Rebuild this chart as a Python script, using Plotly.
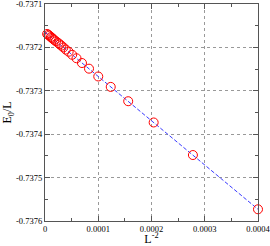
import plotly.graph_objects as go

L_sizes = [50, 60, 70, 80, 90, 100, 110, 120, 130, 140, 150, 160, 170, 180, 190,
           200, 220, 240, 260, 280, 300, 350, 400, 500]
inv_L2 = [1.0 / (L * L) for L in L_sizes]
E0_per_L = [-0.737573, -0.737448, -0.737373, -0.737324, -0.737291, -0.737267,
            -0.737249, -0.737236, -0.737225, -0.737217, -0.737210, -0.737205,
            -0.737200, -0.737196, -0.737193, -0.737190, -0.737186, -0.737183,
            -0.737180, -0.737178, -0.737176, -0.737173, -0.737171, -0.737169]

fit_x = [0.0, 0.0004]
fit_y = [-0.737165, -0.737573]

x_ticks = [0, 0.0001, 0.0002, 0.0003, 0.0004]
x_labels = ["0", "0.0001", "0.0002", "0.0003", "0.0004"]
y_ticks = [-0.7371, -0.7372, -0.7373, -0.7374, -0.7375, -0.7376]
y_labels = ["-0.7371", "-0.7372", "-0.7373", "-0.7374", "-0.7375", "-0.7376"]

font = "Liberation Serif, Times New Roman, serif"

fig = go.Figure()
fig.add_trace(go.Scatter(x=fit_x, y=fit_y, mode="lines",
                         line=dict(color="#3a3aff", width=1, dash="4px,2px"),
                         showlegend=False, hoverinfo="skip"))
fig.add_trace(go.Scatter(x=inv_L2, y=E0_per_L, mode="markers", cliponaxis=False,
                         marker=dict(symbol="circle-open", size=9, color="red",
                                     line=dict(width=1, color="red")),
                         showlegend=False))

axis_common = dict(
    showline=True, linecolor="#555555", linewidth=1.2, mirror="allticks",
    ticks="inside", ticklen=5, tickcolor="#555555", tickwidth=1,
    showgrid=True, gridcolor="#999999", griddash="dot", gridwidth=1,
    zeroline=False, automargin=False, ticklabeloverflow="allow",
    tickfont=dict(family=font, size=8.5, color="black"),
)

fig.update_xaxes(range=[-1e-9, 0.000400001], tickvals=x_ticks, ticktext=x_labels,
                 minor=dict(ticks="inside", ticklen=3, dtick=0.00005, tick0=0,
                            tickcolor="#555555", showgrid=False),
                 title=dict(text="L<sup>-2</sup>", font=dict(family=font, size=12, color="black"),
                            standoff=3),
                 **axis_common)
fig.update_yaxes(range=[-0.73760001, -0.73709999], tickvals=y_ticks, ticktext=y_labels,
                 minor=dict(ticks="inside", ticklen=3, dtick=0.00005, tick0=-0.7376,
                            tickcolor="#555555", showgrid=False),
                 title=dict(text="E<sub>0</sub>/L", font=dict(family=font, size=12, color="black"),
                            standoff=4),
                 **axis_common)

fig.update_layout(width=270, height=246, margin=dict(l=45, r=12, t=4, b=25),
                  plot_bgcolor="white", paper_bgcolor="white")

fig.write_html("out.html", config={"displayModeBar": False},
               post_script="document.body.style.margin='0';document.body.style.overflow='hidden';")
